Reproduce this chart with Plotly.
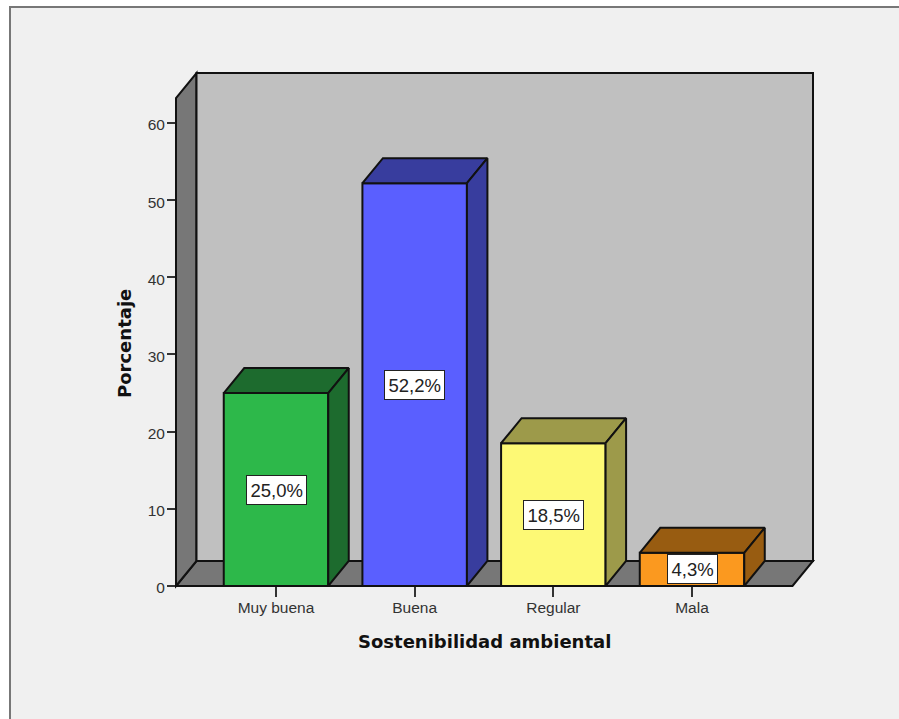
import plotly.graph_objects as go

# Survey results: share of respondents per rating
categories = ["Muy buena", "Buena", "Regular", "Mala"]
percentages = [25.0, 52.2, 18.5, 4.3]
value_labels = ["25,0%", "52,2%", "18,5%", "4,3%"]
y_ticks = [0, 10, 20, 30, 40, 50, 60]

front_colors = ["#2db84a", "#5a5fff", "#fdf975", "#fb991f"]
shade_colors = ["#1d6b2e", "#383d9e", "#9d9a4a", "#985c11"]

WIDTH, HEIGHT = 899, 719
LEFT, RIGHT, TOP, BOTTOM = 176, 813, 73, 586
PX_PER_CAT = 138.67
PX_PER_PCT = 7.717
X_ZERO_PX = 276

# Fake 3D extrusion, expressed in axis units
depth_x = 20.5 / PX_PER_CAT
depth_y = 25.0 / PX_PER_PCT
bar_width = 104.5 / PX_PER_CAT

x_min = (LEFT - X_ZERO_PX) / PX_PER_CAT
x_max = (RIGHT - X_ZERO_PX) / PX_PER_CAT
y_max = (BOTTOM - TOP) / PX_PER_PCT


def fx(x):
    return (x - x_min) / (x_max - x_min)


def fy(y):
    return y / y_max


def px_x(px):
    return (px - LEFT) / (RIGHT - LEFT)


def px_y(px):
    return (BOTTOM - px) / (BOTTOM - TOP)


def polygon(points, fill):
    path = "M " + " L ".join(f"{fx(x):.5f},{fy(y):.5f}" for x, y in points) + " Z"
    return dict(type="path", xref="paper", yref="paper", path=path, fillcolor=fill,
                line=dict(color="#111111", width=2), layer="below")


fig = go.Figure()

# Front faces of the bars
fig.add_trace(go.Bar(
    x=list(range(len(categories))), y=percentages, width=bar_width,
    marker=dict(color=front_colors, line=dict(color="#111111", width=2)),
    showlegend=False, hoverinfo="skip",
))

# Top and side faces of each bar
for i, value in enumerate(percentages):
    x0, x1 = i - bar_width / 2, i + bar_width / 2
    fig.add_trace(go.Scatter(
        x=[x0, x0 + depth_x, x1 + depth_x, x1, x0],
        y=[value, value + depth_y, value + depth_y, value, value],
        mode="lines", fill="toself", fillcolor=shade_colors[i],
        line=dict(color="#111111", width=2), showlegend=False, hoverinfo="skip",
        cliponaxis=False,
    ))
    fig.add_trace(go.Scatter(
        x=[x1, x1 + depth_x, x1 + depth_x, x1, x1],
        y=[value, value + depth_y, depth_y, 0, value],
        mode="lines", fill="toself", fillcolor=shade_colors[i],
        line=dict(color="#111111", width=2), showlegend=False, hoverinfo="skip",
        cliponaxis=False,
    ))

shapes = [
    # Page background with its thin frame
    dict(type="rect", xref="paper", yref="paper", layer="below",
         x0=px_x(10), x1=px_x(WIDTH + 20), y0=px_y(HEIGHT + 20), y1=px_y(7),
         fillcolor="#f0f0f0", line=dict(color="#777777", width=2)),
    # Floor, side wall and back wall of the chart box
    polygon([(x_min, 0), (x_max - depth_x, 0), (x_max, depth_y), (x_min + depth_x, depth_y)], "#777777"),
    polygon([(x_min, 0), (x_min + depth_x, depth_y), (x_min + depth_x, y_max),
             (x_min, y_max - depth_y)], "#777777"),
    polygon([(x_min + depth_x, depth_y), (x_max, depth_y), (x_max, y_max),
             (x_min + depth_x, y_max)], "#c0c0c0"),
]

annotations = [
    dict(x=i, y=value / 2, xref="x", yref="y", text=label, showarrow=False,
         font=dict(family="Liberation Sans", size=18.5, color="#222222"),
         bgcolor="#ffffff", bordercolor="#222222", borderwidth=1, borderpad=3.5)
    for i, (value, label) in enumerate(zip(percentages, value_labels))
]
annotations += [
    dict(x=px_x(484), y=px_y(641), xref="paper", yref="paper", xanchor="center", yanchor="middle",
         text="<b>Sostenibilidad ambiental</b>",
         showarrow=False, font=dict(family="DejaVu Sans", size=18, color="#111111")),
    dict(x=px_x(124), y=px_y(344), xref="paper", yref="paper", xanchor="center", yanchor="middle",
         text="<b>Porcentaje</b>", textangle=-90,
         showarrow=False, font=dict(family="DejaVu Sans", size=18, color="#111111")),
]

fig.update_layout(
    width=WIDTH, height=HEIGHT, autosize=False,
    margin=dict(l=LEFT, r=WIDTH - RIGHT, t=TOP, b=HEIGHT - BOTTOM, pad=0),
    paper_bgcolor="#ffffff", plot_bgcolor="rgba(0,0,0,0)",
    shapes=shapes, annotations=annotations, showlegend=False,
    xaxis=dict(range=[x_min, x_max], tickmode="array", tickvals=list(range(len(categories))),
               ticktext=categories, ticks="outside", ticklen=10, tickwidth=1.5, tickcolor="#333333",
               tickfont=dict(family="Liberation Sans", size=15.5, color="#333333"),
               ticklabelstandoff=-3,
               showgrid=False, zeroline=False, showline=False),
    yaxis=dict(range=[0, y_max], tickmode="array", tickvals=y_ticks,
               ticks="outside", ticklen=8, tickwidth=1.5, tickcolor="#333333",
               tickfont=dict(family="Liberation Sans", size=15.5, color="#333333"),
               ticklabelshift=2, ticklabelstandoff=-1,
               showgrid=False, zeroline=False, showline=False),
)

fig.write_html("out.html")
